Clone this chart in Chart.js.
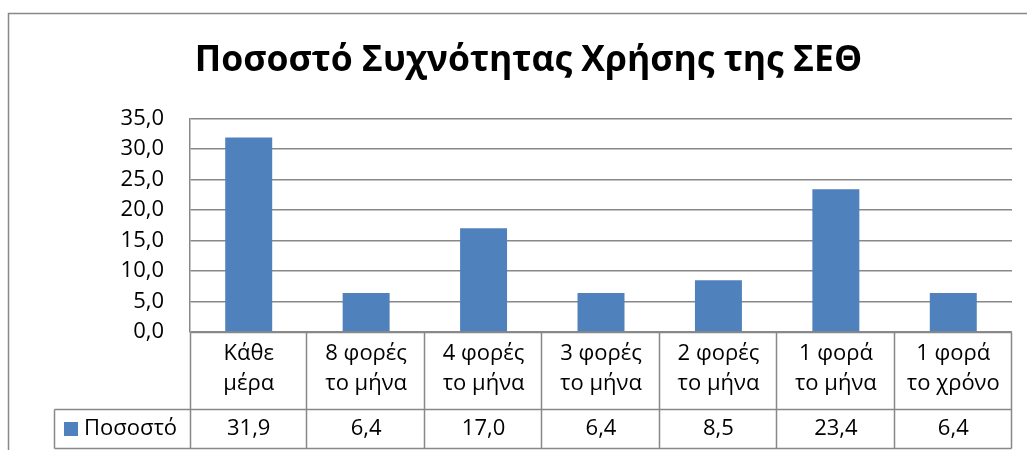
<!DOCTYPE html>
<html>
<head>
<meta charset="utf-8">
<style>
  html, body { margin: 0; padding: 0; background: #fff; }
  #wrap { width: 1027px; height: 450px; }
</style>
</head>
<body>
<div id="wrap"><canvas id="myChart" width="1027" height="450"></canvas></div>

<script src="https://cdn.jsdelivr.net/npm/chart.js"></script>
<script>
  // frequency of use, percent
  const categories = [
    ['Κάθε', 'μέρα'],
    ['8 φορές', 'το μήνα'],
    ['4 φορές', 'το μήνα'],
    ['3 φορές', 'το μήνα'],
    ['2 φορές', 'το μήνα'],
    ['1 φορά', 'το μήνα'],
    ['1 φορά', 'το χρόνο']
  ];
  const seriesName = 'Ποσοστό';
  const values = [31.9, 6.4, 17.0, 6.4, 8.5, 23.4, 6.4];
  const yMin = 0, yMax = 35, yStep = 5;

  const FONT = '"Open Sans", "DejaVu Sans", sans-serif';
  const TEXT_SIZE = 22;
  const BLUE = '#4F81BD';
  const GRID = '#888888';
  const fmt = v => Number(v).toFixed(1).replace('.', ',');

  // frame + data table under the x axis
  const dataTable = {
    id: 'dataTable',
    afterDraw(chart) {
      const { ctx, chartArea, scales: { x } } = chart;
      const step = x.getPixelForValue(1) - x.getPixelForValue(0);
      const left = Math.round(chartArea.left) + 0.5;
      const right = Math.round(x.getPixelForValue(values.length - 1) + step / 2) - 0.5;
      const top = Math.round(chartArea.bottom) + 0.5;
      const rowTop = 409.5, rowBottom = 448.5, labelLeft = 54.5;

      ctx.save();
      ctx.strokeStyle = GRID;
      ctx.lineWidth = 1.5;

      // outer chart frame
      ctx.beginPath();
      ctx.moveTo(8.5, 450);
      ctx.lineTo(8.5, 13.5);
      ctx.lineTo(1027, 13.5);
      ctx.stroke();

      ctx.beginPath();
      ctx.moveTo(left, top); ctx.lineTo(right, top);
      ctx.moveTo(labelLeft, rowTop); ctx.lineTo(right, rowTop);
      ctx.moveTo(labelLeft, rowBottom); ctx.lineTo(right, rowBottom);
      ctx.moveTo(labelLeft, rowTop); ctx.lineTo(labelLeft, rowBottom);
      ctx.moveTo(left, top); ctx.lineTo(left, rowBottom);
      for (let i = 0; i < values.length; i++) {
        const xr = Math.round(x.getPixelForValue(i) + step / 2) - 0.5;
        ctx.moveTo(xr, top); ctx.lineTo(xr, rowBottom);
      }
      ctx.stroke();

      // legend key + series name
      const midY = (rowTop + rowBottom) / 2;
      ctx.fillStyle = BLUE;
      ctx.fillRect(64, midY - 7, 14, 14);
      ctx.fillStyle = '#000';
      ctx.font = TEXT_SIZE + 'px ' + FONT;
      ctx.textBaseline = 'middle';
      ctx.textAlign = 'left';
      ctx.fillText(seriesName, 84, midY);

      // values
      ctx.textAlign = 'center';
      values.forEach((v, i) => {
        ctx.fillText(fmt(v), x.getPixelForValue(i), midY);
      });
      ctx.restore();
    }
  };

  const ctx = document.getElementById('myChart');
  new Chart(ctx, {
    type: 'bar',
    data: {
      labels: categories,
      datasets: [{
        label: seriesName,
        data: values,
        backgroundColor: BLUE,
        borderWidth: 0,
        barPercentage: 0.4,
        categoryPercentage: 1.0
      }]
    },
    options: {
      responsive: false,
      animation: false,
      devicePixelRatio: 1,
      layout: { padding: { left: 45, right: 15, top: 0, bottom: 0 } },
      plugins: {
        legend: { display: false },
        tooltip: { enabled: false },
        title: {
          display: true,
          text: 'Ποσοστό Συχνότητας Χρήσης της ΣΕΘ',
          color: '#000',
          font: { family: FONT, size: 35.5, weight: 'bold', lineHeight: 1.2 },
          padding: { top: 40, bottom: 36 }
        }
      },
      scales: {
        x: {
          grid: { display: false, drawTicks: false },
          border: { display: false },
          ticks: {
            color: '#000',
            font: { family: FONT, size: TEXT_SIZE, lineHeight: 1.4 },
            padding: 6,
            maxRotation: 0,
            autoSkip: false
          },
          afterFit(scale) { scale.height = 118; }
        },
        y: {
          min: yMin,
          max: yMax,
          grid: { color: GRID, lineWidth: 1.5, drawTicks: false },
          border: { display: true, color: GRID, width: 1.5 },
          ticks: {
            stepSize: yStep,
            color: '#000',
            font: { family: FONT, size: TEXT_SIZE },
            padding: 26,
            callback: v => fmt(v)
          },
          afterFit(scale) { scale.width = 145; }
        }
      }
    },
    plugins: [dataTable]
  });
</script>
</body>
</html>
